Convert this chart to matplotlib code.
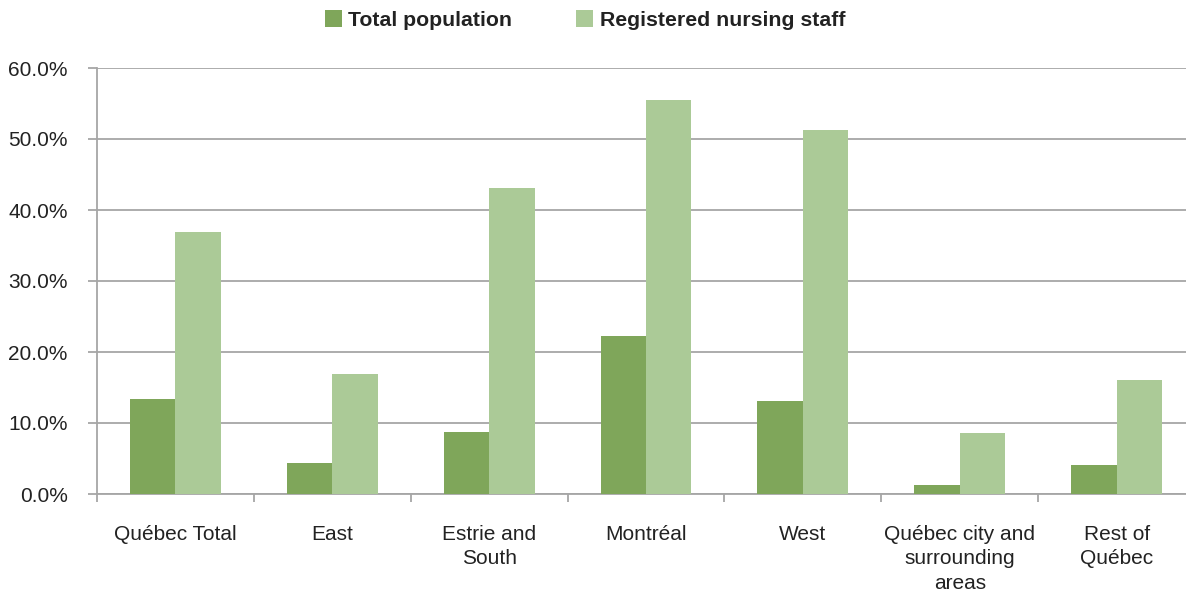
import numpy as np
import matplotlib.pyplot as plt
from matplotlib.ticker import FuncFormatter

plt.rcParams['font.family'] = ['Liberation Sans', 'DejaVu Sans']

regions = ["Québec Total", "East", "Estrie and\nSouth", "Montréal", "West",
           "Québec city and\nsurrounding\nareas", "Rest of\nQuébec"]
total_population = [13.4, 4.3, 8.8, 22.2, 13.1, 1.2, 4.1]
nursing_staff = [36.9, 16.9, 43.1, 55.5, 51.3, 8.6, 16.1]

dark_green = "#7fa65a"
light_green = "#abca97"
grid_grey = "#a6a6a6"

fig = plt.figure(figsize=(11.86, 5.95), dpi=100)
# axes runs slightly past the right edge, as in the original
ax = fig.add_axes([97 / 1186, 1 - 494 / 595, (1195 - 97) / 1186, (494 - 68) / 595])

x = np.arange(len(regions))
w = 0.29
ax.bar(x - w / 2, total_population, w, color=dark_green, label="Total population", zorder=3)
ax.bar(x + w / 2, nursing_staff, w, color=light_green, label="Registered nursing staff", zorder=3)

ax.set_xlim(-0.5, len(regions) - 0.5)
ax.set_ylim(0, 60)
ax.set_yticks(np.arange(0, 61, 10))
ax.yaxis.set_major_formatter(FuncFormatter(lambda v, p: f"{v:.1f}%"))
ax.yaxis.grid(True, color=grid_grey, linewidth=1.3, zorder=0)

# category labels centred, tick marks on the boundaries
ax.set_xticks(x)
ax.set_xticklabels(regions, fontsize=15, color="#222222", linespacing=1.38)
ax.tick_params(axis='x', length=0, pad=22)
ax.set_xticks(np.arange(-0.5, len(regions), 1), minor=True)
ax.tick_params(axis='x', which='minor', length=6, width=1.3, color=grid_grey)
ax.tick_params(axis='y', length=6.5, width=1.3, color=grid_grey, labelsize=15,
               labelcolor="#222222", pad=14.5)

for side in ["top", "right"]:
    ax.spines[side].set_visible(False)
ax.spines["left"].set_color(grid_grey)
ax.spines["bottom"].set_color(grid_grey)
ax.spines["left"].set_linewidth(1.3)
ax.spines["bottom"].set_linewidth(1.3)

leg = fig.legend(loc="center", bbox_to_anchor=(585 / 1186, 1 - 20 / 595), ncol=2,
                 frameon=False, handlelength=0.8, handleheight=0.8, handletextpad=0.3,
                 columnspacing=3.0, prop={'weight': 'bold', 'size': 15.3})
for t in leg.get_texts():
    t.set_color("#222222")

fig.savefig("out.png", dpi=100)
